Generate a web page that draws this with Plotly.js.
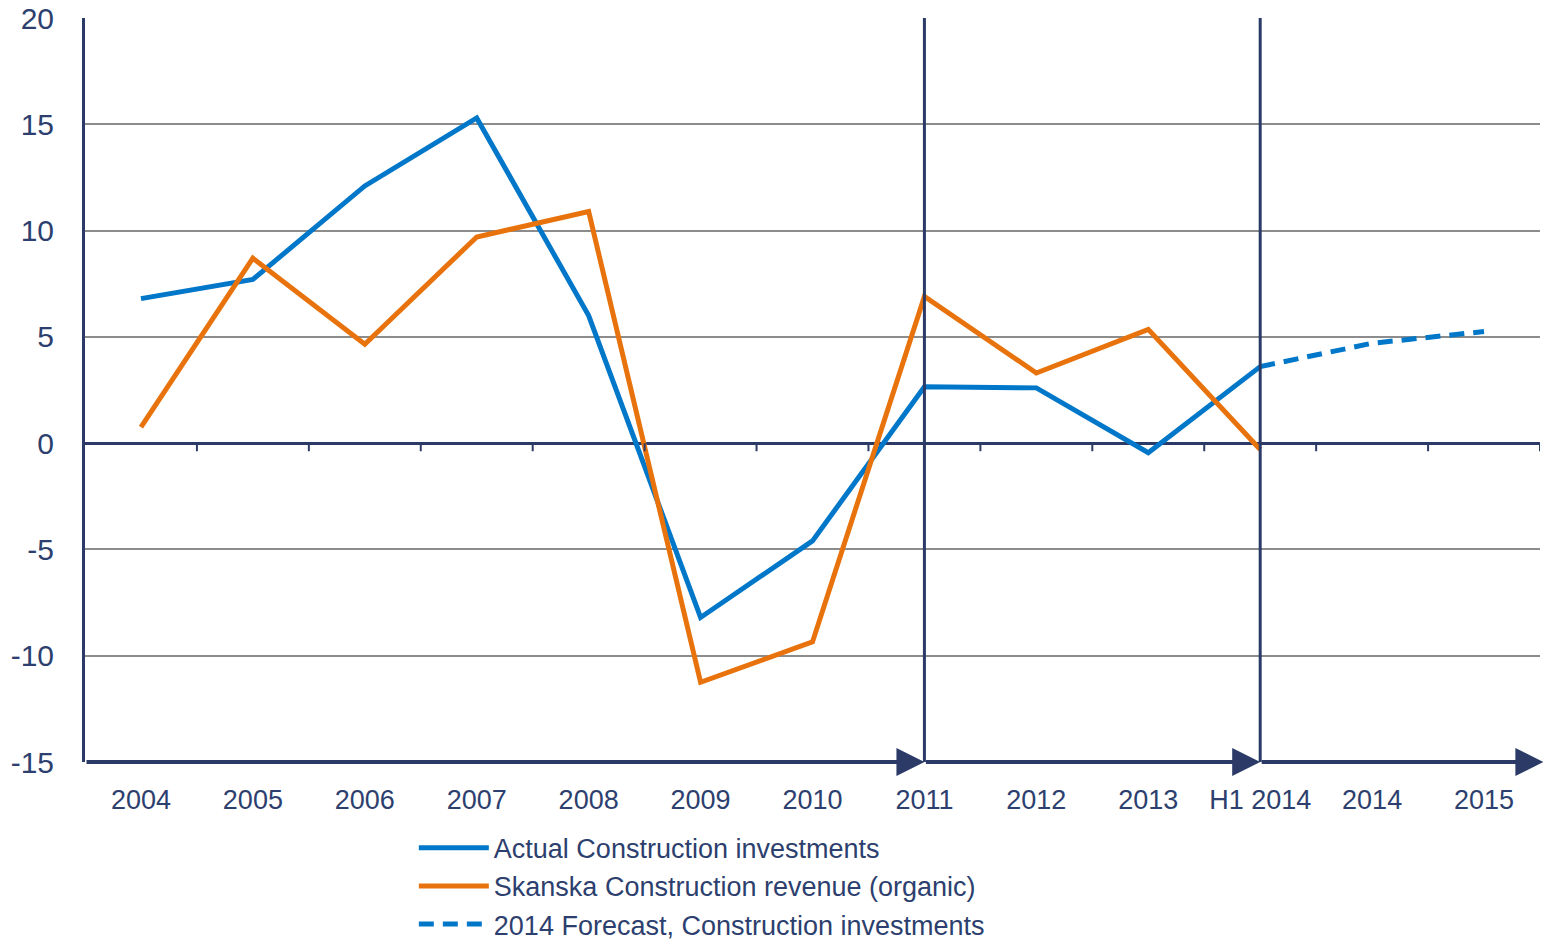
<!DOCTYPE html>
<html>
<head>
<meta charset="utf-8">
<script src="https://cdn.plot.ly/plotly-3.0.1.min.js"></script>
<style>html,body{margin:0;padding:0;background:#fff;}#chart{width:1546px;height:947px;}</style>
</head>
<body>
<div id="chart"></div>
<script>
const categories = ['2004','2005','2006','2007','2008','2009','2010','2011','2012','2013','H1 2014','2014','2015'];
const actualCats = ['2004','2005','2006','2007','2008','2009','2010','2011','2012','2013','H1 2014'];
const actualValues = [6.8, 7.7, 12.1, 15.3, 6.0, -8.2, -4.6, 2.65, 2.6, -0.45, 3.6];
const skanskaValues = [0.75, 8.7, 4.65, 9.7, 10.9, -11.25, -9.35, 6.9, 3.3, 5.35, -0.3];
const forecastCats = ['H1 2014','2014','2015'];
const forecastValues = [3.6, 4.7, 5.25];
const yTickVals = [-15,-10,-5,0,5,10,15,20];
const yTickText = ['-15','-10','-5','0','5','10','15','20'];

const navy = '#2b3a67';
const textColor = '#2d3f6e';
const blue = '#0077c8';
const orange = '#e8730c';

const traces = [
  {x: actualCats, y: actualValues, type: 'scatter', mode: 'lines', name: 'Actual Construction investments',
   line: {color: blue, width: 5}},
  {x: actualCats, y: skanskaValues, type: 'scatter', mode: 'lines', name: 'Skanska Construction revenue (organic)',
   line: {color: orange, width: 5}},
  {x: forecastCats, y: forecastValues, type: 'scatter', mode: 'lines', name: '2014 Forecast, Construction investments',
   line: {color: blue, width: 5, dash: '15px,9px'}}
];

const shapes = [];
['2011','H1 2014'].forEach(c => {
  const i = categories.indexOf(c);
  shapes.push({type:'line', xref:'x', yref:'y', x0:i, x1:i, y0:-15, y1:20, line:{color:navy, width:3}, layer:'above'});
});
for (let k = 1; k <= categories.length; k++) {
  shapes.push({type:'line', xref:'x', yref:'y', x0:k-0.5, x1:k-0.5, y0:0, y1:-0.38, line:{color:navy, width:2}});
}

const annotations = [];
const i2011 = categories.indexOf('2011');
const iH1 = categories.indexOf('H1 2014');
const segs = [[-0.5, i2011], [i2011, iH1], [iH1, categories.length - 0.47]];
segs.forEach(s => {
  annotations.push({x: s[1], y: -15, ax: s[0], ay: -15, xref:'x', yref:'y', axref:'x', ayref:'y',
    text:'', showarrow:true, arrowhead:2, arrowsize:1.4, arrowwidth:4, arrowcolor:navy, standoff:0, startstandoff:0});
});

const layout = {
  width: 1546, height: 947,
  margin: {l: 85, r: 6, t: 18, b: 185, autoexpand: false},
  paper_bgcolor: '#fff', plot_bgcolor: '#fff',
  font: {family: 'Arial, "Liberation Sans", sans-serif', color: textColor},
  showlegend: true,
  legend: {x: 0.226, y: -0.083, xanchor: 'left', yanchor: 'top', orientation: 'v',
    font: {size: 27, color: textColor}, bgcolor: 'rgba(0,0,0,0)', itemwidth: 70, tracegroupgap: 0},
  xaxis: {type: 'category', categoryorder: 'array', categoryarray: categories,
    range: [-0.5, categories.length - 0.5], showgrid: false, zeroline: false, showline: false,
    ticks: '', tickfont: {size: 27, color: textColor}, ticklabelstandoff: 19, fixedrange: true},
  yaxis: {range: [-15, 20], tickvals: yTickVals, ticktext: yTickText, showgrid: true,
    gridcolor: '#8c8c8c', gridwidth: 2, zeroline: true, zerolinecolor: navy, zerolinewidth: 3,
    showline: true, linecolor: navy, linewidth: 3, ticks: '', tickfont: {size: 30, color: textColor},
    ticklabelstandoff: 22, fixedrange: true},
  shapes: shapes,
  annotations: annotations
};

Plotly.newPlot('chart', traces, layout, {displayModeBar: false, staticPlot: true});
</script>
</body>
</html>
